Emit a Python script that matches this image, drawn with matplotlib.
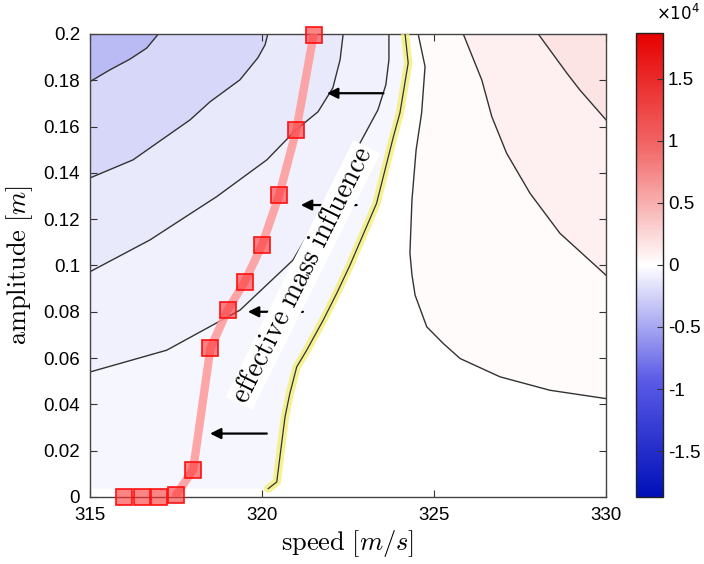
import numpy as np
import matplotlib.pyplot as plt
from matplotlib.colors import LinearSegmentedColormap, Normalize
from matplotlib.cm import ScalarMappable
from matplotlib.ticker import FuncFormatter

plt.rcParams['font.family'] = ['Liberation Sans', 'DejaVu Sans']
plt.rcParams['mathtext.fontset'] = 'cm'

# contour lines (speed [m/s], amplitude [m])
lineA_x = [315.0, 315.58, 316.16, 316.65, 316.89, 316.99]
lineA_y = [0.1794, 0.1845, 0.1891, 0.1939, 0.1982, 0.2]
lineB_x = [315.0, 316.25, 317.91, 318.49, 319.36, 319.88, 320.09, 320.17]
lineB_y = [0.1378, 0.1456, 0.1629, 0.1707, 0.1802, 0.1897, 0.1953, 0.2]
lineC_x = [315.0, 316.74, 318.68, 320.14, 320.99, 321.63, 322.06, 322.27, 322.36]
lineC_y = [0.0973, 0.1110, 0.1297, 0.1456, 0.1586, 0.1664, 0.1767, 0.1888, 0.2]
lineD_x = [315.0, 317.23, 319.36, 320.90, 321.83, 322.85, 323.37, 323.60, 323.69, 323.69]
lineD_y = [0.0540, 0.0634, 0.0807, 0.1023, 0.1261, 0.1529, 0.1672, 0.1780, 0.1888, 0.2]
# zero line (highlighted yellow)
zero_x = [320.18, 320.43, 320.57, 320.67, 320.81, 321.01, 321.30, 321.78, 322.17,
          322.56, 323.33, 323.82, 324.01, 324.25, 324.16]
zero_y = [0.0036, 0.0065, 0.0231, 0.0346, 0.0447, 0.0562, 0.0634, 0.0764, 0.0879,
          0.1002, 0.1268, 0.1556, 0.1659, 0.1874, 0.2]
lineE_x = [324.54, 324.74, 324.64, 324.48, 324.36, 324.30, 324.36, 324.45, 324.79,
           325.27, 325.76, 326.92, 328.37, 330.0]
lineE_y = [0.2, 0.1859, 0.1658, 0.1499, 0.1283, 0.1054, 0.0959, 0.0872, 0.0735,
           0.0663, 0.0598, 0.0519, 0.0461, 0.0425]
lineF_x = [325.85, 326.39, 326.68, 327.11, 327.79, 328.66, 330.0]
lineF_y = [0.2, 0.1801, 0.1643, 0.1485, 0.1312, 0.1139, 0.0958]
lineG_x = [328.03, 328.86, 329.24, 330.0]
lineG_y = [0.2, 0.1831, 0.1758, 0.1629]

# field value used to shade each band
left_levels = [-450, -870, -1300, -2200, -3800]   # left of zero, D, C, B, A
right_levels = [250, 950, 1750]                   # right of E, F, G

# flutter points
sq_x = [316.0, 316.5, 317.0, 317.5, 318.0, 318.5, 319.0, 319.5, 320.0, 320.5, 321.0, 321.5]
sq_y = [0.0, 0.0, 0.0, 0.0008, 0.0118, 0.0642, 0.0807, 0.0930, 0.1088, 0.1304, 0.1586, 0.1996]

# arrows
arr_y = [0.1744, 0.1261, 0.0800, 0.0274]
arr_tail = [323.53, 322.75, 321.19, 320.14]
arr_head = [321.89, 321.13, 319.59, 318.49]

cb_ticks = [-15000, -10000, -5000, 0, 5000, 10000, 15000]

cmap = LinearSegmentedColormap.from_list(
    'bwr_m', [(0.0, '#0010b8'), (0.25, '#5a5ae6'), (0.5, 'white'),
              (0.75, '#f26a6a'), (1.0, '#e60000')])
norm = Normalize(vmin=-18700, vmax=18700)

fig = plt.figure(figsize=(7.04, 5.64), dpi=100)
ax = fig.add_axes([0.1278, 0.1188, 0.733, 0.821])

# bands to the left of the zero line
ax.fill(zero_x + [315.0, 315.0], zero_y + [0.2, zero_y[0]],
        color=cmap(norm(left_levels[0])), lw=0, zorder=1)
for lx, ly, lev in zip([lineD_x, lineC_x, lineB_x, lineA_x],
                       [lineD_y, lineC_y, lineB_y, lineA_y], left_levels[1:]):
    ax.fill(lx + [315.0], ly + [0.2], color=cmap(norm(lev)), lw=0, zorder=1)
# bands to the right
for lx, ly, lev in zip([lineE_x, lineF_x, lineG_x],
                       [lineE_y, lineF_y, lineG_y], right_levels):
    ax.fill(lx + [330.0], ly + [0.2], color=cmap(norm(lev)), lw=0, zorder=1)

for lx, ly in zip([lineA_x, lineB_x, lineC_x, lineD_x, lineE_x, lineF_x, lineG_x],
                  [lineA_y, lineB_y, lineC_y, lineD_y, lineE_y, lineF_y, lineG_y]):
    ax.plot(lx, ly, color='#333333', lw=1.0, zorder=2)

ax.plot(zero_x, zero_y, color='#f3ee70', lw=6, alpha=0.75, solid_capstyle='round', zorder=3)
ax.plot(zero_x, zero_y, color='#333333', lw=0.9, zorder=3)

ax.plot(sq_x[3:], sq_y[3:], color='#ff9898', lw=6, alpha=0.85,
        solid_capstyle='round', zorder=4)
ax.plot(sq_x, sq_y, 's', ms=11.5, mfc=(1, 0.2, 0.2, 0.6), mec='#ff1010',
        mew=1.2, zorder=5, clip_on=False)

for y, xt, xh in zip(arr_y, arr_tail, arr_head):
    ax.annotate('', xy=(xh, y), xytext=(xt, y),
                arrowprops=dict(arrowstyle='-|>', color='k', lw=1.6,
                                mutation_scale=16, shrinkA=0, shrinkB=0),
                zorder=6)

ax.text(321.19, 0.0958, r'$\mathrm{effective\ mass\ influence}$', fontsize=20,
        rotation=63.5, ha='center', va='center', rotation_mode='anchor',
        bbox=dict(facecolor='white', edgecolor='none', pad=1.5), zorder=7)

ax.set_xlim(315, 330)
ax.set_ylim(0, 0.2)
ax.set_xticks([315, 320, 325, 330])
ax.set_yticks(np.arange(0, 0.201, 0.02))
ax.yaxis.set_major_formatter(FuncFormatter(lambda v, p: '%g' % round(v, 2)))
ax.tick_params(direction='in', top=True, right=True, length=5, width=0.8,
               labelsize=13.5, color='#333333', pad=7)
for s in ax.spines.values():
    s.set_color('#444444')
    s.set_linewidth(1.0)
ax.set_xlabel(r'$\mathrm{speed}\ [m/s]$', fontsize=19, labelpad=3)
ax.set_ylabel(r'$\mathrm{amplitude}\ [m]$', fontsize=19, labelpad=6)

cax = fig.add_axes([0.9034, 0.1188, 0.0384, 0.823])
cb = fig.colorbar(ScalarMappable(norm=norm, cmap=cmap), cax=cax)
cb.set_ticks(cb_ticks)
cb.ax.yaxis.set_major_formatter(FuncFormatter(lambda v, p: '%g' % (v / 1e4)))
cb.ax.tick_params(direction='in', length=4, labelsize=13.5, color='#333333')
cb.outline.set_edgecolor('#222222')
cb.outline.set_linewidth(1.0)
fig.text(0.932, 0.965, r'$\times10^{4}$', fontsize=12, math_fontfamily='dejavusans')

fig.savefig('out.png', dpi=100)
